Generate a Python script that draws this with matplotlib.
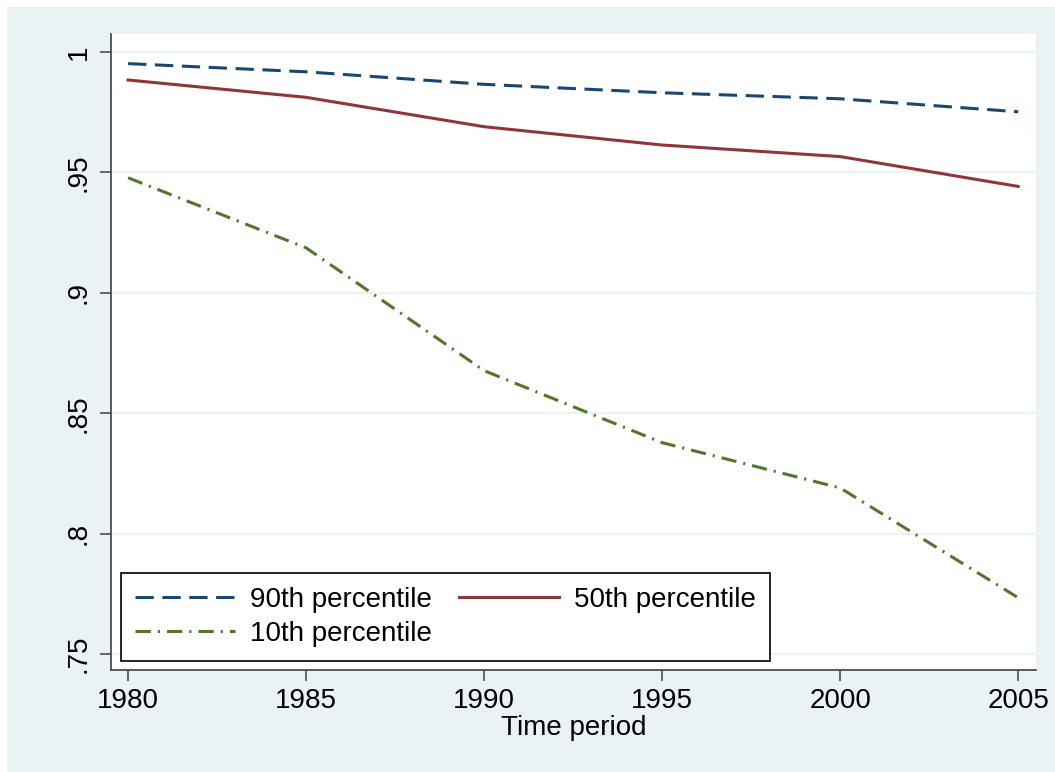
import matplotlib.pyplot as plt
from matplotlib.patches import Rectangle

# data
years = [1980, 1985, 1990, 1995, 2000, 2005]
p90 = [0.9952, 0.9918, 0.9866, 0.9831, 0.9806, 0.9752]
p50 = [0.9884, 0.9812, 0.9690, 0.9614, 0.9566, 0.9442]
p10 = [0.9478, 0.9187, 0.8677, 0.8378, 0.8190, 0.7734]

y_ticks = [0.75, 0.8, 0.85, 0.9, 0.95, 1.0]
y_tick_labels = ['.75', '.8', '.85', '.9', '.95', '1']

plt.rcParams['font.family'] = ['Liberation Sans', 'DejaVu Sans']
FS = 20

W, H = 1055, 772
fig = plt.figure(figsize=(W / 100, H / 100), dpi=100, facecolor='white')

# Stata-style light background, leaving a thin white strip on the top and left
fig.add_artist(Rectangle((7 / W, 0), 1 - 7 / W, 1 - 7 / H, transform=fig.transFigure,
                         facecolor='#EAF2F3', edgecolor='none', zorder=-10))

left, right, top, bottom = 111, 1036, 34, 670
ax = fig.add_axes([left / W, 1 - bottom / H, (right - left) / W, (bottom - top) / H])
ax.set_facecolor('white')

navy = '#1A476F'
maroon = '#90353B'
green = '#55752F'

l90, = ax.plot(years, p90, color=navy, lw=2.2, linestyle=(0, (6, 2.8)), label='90th percentile')
l50, = ax.plot(years, p50, color=maroon, lw=2.2, linestyle='-', label='50th percentile')
l10, = ax.plot(years, p10, color=green, lw=2.2, linestyle=(0, (5, 2.3, 0.7, 2.3)), label='10th percentile')

ax.set_xlim(1979.52, 2005.5)
ax.set_ylim(0.7434, 1.0075)
ax.set_xticks(years)
ax.set_yticks(y_ticks)
ax.set_yticklabels(y_tick_labels, rotation=90, va='center')

ax.grid(axis='y', color='#EAF2F3', lw=1.6)
ax.set_axisbelow(True)

for side in ['top', 'right']:
    ax.spines[side].set_visible(False)
for side in ['left', 'bottom']:
    ax.spines[side].set_color('#404040')
    ax.spines[side].set_linewidth(1.2)

ax.tick_params(axis='both', labelsize=FS, length=8, width=1.1, color='#404040', direction='out')
ax.tick_params(axis='y', pad=6)
ax.tick_params(axis='x', pad=5)

ax.set_xlabel('Time period', fontsize=FS, labelpad=1)

# handles ordered so the legend reads 90th, 50th on the first row and 10th below
leg = ax.legend([l90, l10, l50], ['90th percentile', '10th percentile', '50th percentile'],
                ncol=2, loc='lower left', mode='expand',
                bbox_to_anchor=(0.0108, 0.0142, 0.7016, 0.135), borderaxespad=0,
                fontsize=FS, handlelength=3.6, handletextpad=0.55, columnspacing=1.2,
                labelspacing=0.3, borderpad=0.5, fancybox=False, framealpha=1,
                edgecolor='black')
leg.get_frame().set_linewidth(1.2)

fig.savefig('out.png', dpi=100, facecolor=fig.get_facecolor())
